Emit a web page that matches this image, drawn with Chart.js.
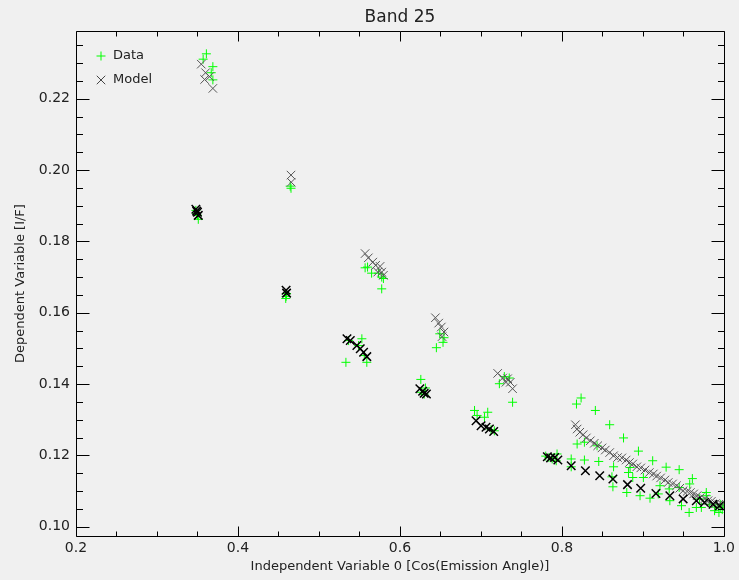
<!DOCTYPE html>
<html>
<head>
<meta charset="utf-8">
<title>Band 25</title>
<script src="https://cdn.jsdelivr.net/npm/chart.js@4.4.0/dist/chart.umd.min.js"></script>
<style>
  html, body { margin: 0; padding: 0; background: #f0f0f0; }
  #wrap { width: 739px; height: 580px; }
</style>
</head>
<body>
<div id="wrap"><canvas id="myChart" width="739" height="580"></canvas></div>
<script>
// observed I/F against cos(emission angle)
var dataXY = [
  [0.361,0.2326],[0.357,0.2311],[0.369,0.2290],[0.367,0.2273],[0.369,0.2253],
  [0.348,0.1887],[0.350,0.1873],[0.351,0.1862],[0.349,0.1879],
  [0.4655,0.1949],[0.4645,0.1955],
  [0.4594,0.1646],[0.4600,0.1654],[0.4590,0.1640],
  [0.557,0.1726],[0.565,0.1711],[0.5735,0.1711],[0.5775,0.1700],[0.5796,0.1696],[0.5775,0.1667],[0.560,0.1728],
  [0.5366,0.1522],[0.553,0.1527],[0.5489,0.1508],[0.5333,0.1461],[0.5591,0.1461],[0.556,0.1480],
  [0.6492,0.1541],[0.6544,0.1530],[0.6532,0.1517],[0.645,0.1502],
  [0.6258,0.1413],[0.6315,0.1389],[0.6266,0.1377],[0.630,0.1372],
  [0.6921,0.1326],[0.6953,0.1312],[0.7084,0.1321],[0.7044,0.1307],[0.7166,0.1269],[0.7125,0.1272],
  [0.7289,0.1421],[0.735,0.1417],[0.7228,0.1401],[0.7391,0.1349],
  [0.784,0.1194],[0.788,0.1190],[0.794,0.1204],[0.793,0.1185],[0.780,0.1198],
  [0.818,0.1344],[0.8237,0.1361],[0.8413,0.1326],[0.859,0.1286],[0.8761,0.1249],[0.8945,0.1212],
  [0.9121,0.1185],[0.9287,0.1167],[0.9448,0.1160],[0.9611,0.1135],[0.9783,0.1096],
  [0.8188,0.1232],[0.8278,0.1237],[0.8434,0.1227],[0.8278,0.1187],[0.8115,0.1190],[0.8115,0.1168],
  [0.8455,0.1183],[0.8638,0.1168],[0.863,0.1112],[0.8822,0.1152],[0.8801,0.1096],[0.8965,0.1087],
  [0.9006,0.1138],[0.9088,0.1080],[0.9211,0.1115],[0.9333,0.1073],[0.9477,0.1059],[0.9571,0.1040],
  [0.966,0.1054],[0.9722,0.1054],[0.9824,0.1063],[0.9885,0.1045],[0.9939,0.1040],[0.9955,0.1054],
  [0.919,0.1092],[0.9325,0.1106],[0.9448,0.1110],[0.9578,0.1120],[0.970,0.1078],[0.9783,0.1087],
  [0.8842,0.1166],[0.8875,0.1138],[0.8618,0.1140],
  [0.998,0.1048],[0.999,0.1058],[0.996,0.1062],[0.990,0.1055]
];

// model fit, upper branches
var modelXY = [
  [0.3547,0.2297],[0.360,0.2273],[0.3649,0.2262],[0.3588,0.2254],[0.369,0.2229],
  [0.4655,0.1986],[0.4658,0.1966],
  [0.557,0.1766],[0.561,0.1754],[0.5665,0.1742],[0.570,0.1733],[0.5755,0.1730],[0.5775,0.1714],[0.5796,0.1705],[0.5726,0.1714],
  [0.6438,0.1586],[0.6479,0.1571],[0.6511,0.1560],[0.6544,0.1546],[0.652,0.1533],
  [0.7207,0.1430],[0.7269,0.1417],[0.733,0.1415],[0.7363,0.1405],[0.7391,0.1387],[0.7309,0.1405],
  [0.8167,0.1286],[0.8188,0.1274],[0.8221,0.1265],[0.8262,0.1258],[0.8302,0.1249],[0.8351,0.1241],
  [0.8400,0.1234],[0.8442,0.1227],[0.8495,0.1221],[0.8536,0.1215],[0.8590,0.1208],[0.8638,0.1199],
  [0.8687,0.1194],[0.8740,0.1193],[0.8793,0.1187],[0.8834,0.1180],[0.8875,0.1176],[0.8925,0.1168],
  [0.8974,0.1165],[0.9026,0.1159],[0.9080,0.1152],[0.9129,0.1148],[0.9170,0.1142],[0.9219,0.1137],
  [0.9272,0.1131],[0.9313,0.1124],[0.9366,0.1120],[0.9415,0.1115],[0.9456,0.1108],[0.9497,0.1101],
  [0.9546,0.1099],[0.9587,0.1096],[0.9627,0.1092],[0.9669,0.1087],[0.9710,0.1082],[0.9763,0.1078],
  [0.9804,0.1073],[0.9845,0.1071],[0.9898,0.1065],[0.9939,0.1063],[0.9980,0.1062]
];

// model fit, lower branches
var modelLowXY = [
  [0.348,0.1890],[0.350,0.1882],[0.351,0.1873],[0.349,0.1885],
  [0.4594,0.1663],[0.4600,0.1655],
  [0.5346,0.1527],[0.5387,0.1522],[0.5468,0.1508],[0.551,0.1499],[0.5551,0.1489],[0.5591,0.1477],
  [0.6246,0.1387],[0.6299,0.1374],[0.6327,0.1372],[0.628,0.1380],
  [0.694,0.1297],[0.7002,0.1283],[0.7063,0.1279],[0.7105,0.1274],[0.7158,0.1267],
  [0.782,0.1196],[0.786,0.1193],[0.791,0.1194],[0.795,0.1187],
  [0.8115,0.1171],[0.829,0.1157],[0.8467,0.1143],[0.863,0.1134],[0.881,0.1118],[0.8973,0.1108],
  [0.9161,0.1093],[0.9333,0.1087],[0.9497,0.1078],[0.966,0.1073],[0.976,0.1068],[0.9866,0.1063],[0.9946,0.1059]
];

var xTickLabels = ['0.2', '0.4', '0.6', '0.8', '1.0'];
var yTickLabels = ['0.10', '0.12', '0.14', '0.16', '0.18', '0.20', '0.22'];
var xRange = [0.2, 1.0];
var yRange = [0.0974, 0.239];

var FONT = '"DejaVu Sans", sans-serif';
var INK = '#222';
var GREEN = '#00ff00';

function toPoints(arr) {
  return arr.map(function (p) { return { x: p[0], y: p[1] }; });
}

// IDL style box: frame on all four sides, ticks pointing inward
var boxTicks = {
  id: 'boxTicks',
  afterDraw: function (chart) {
    var ctx = chart.ctx, a = chart.chartArea;
    var sx = chart.scales.x, sy = chart.scales.y;
    var L = Math.round(a.left) + 0.5, R = Math.round(a.right) + 0.5;
    var T = Math.round(a.top) + 0.5, B = Math.round(a.bottom) + 0.5;
    ctx.save();
    ctx.strokeStyle = '#000';
    ctx.lineWidth = 1;
    ctx.beginPath();
    ctx.rect(L, T, R - L, B - T);
    var i, v, p, len;
    for (i = 0; i <= 16; i++) {
      v = xRange[0] + i * 0.05;
      p = Math.round(sx.getPixelForValue(v)) + 0.5;
      len = (i % 4 === 0) ? 10 : 5;
      ctx.moveTo(p, B); ctx.lineTo(p, B - len);
      ctx.moveTo(p, T); ctx.lineTo(p, T + len);
    }
    for (i = 0; i <= 27; i++) {
      v = 0.10 + i * 0.005;
      p = Math.round(sy.getPixelForValue(v)) + 0.5;
      len = (i % 4 === 0) ? 13 : 6.5;
      ctx.moveTo(L, p); ctx.lineTo(L + len, p);
      ctx.moveTo(R, p); ctx.lineTo(R - len, p);
    }
    ctx.stroke();

    // legend
    var lx = a.left + 25, ly = a.top + 25;
    ctx.strokeStyle = GREEN;
    Chart.helpers.drawPoint(ctx, { pointStyle: 'cross', radius: 4.5, borderWidth: 1, rotation: 0 }, lx, ly);
    ctx.strokeStyle = '#444';
    Chart.helpers.drawPoint(ctx, { pointStyle: 'crossRot', radius: 6, borderWidth: 1, rotation: 0 }, lx, ly + 24);
    ctx.fillStyle = INK;
    ctx.font = '13px ' + FONT;
    ctx.textBaseline = 'middle';
    ctx.textAlign = 'left';
    ctx.fillText('Data', lx + 12, ly);
    ctx.fillText('Model', lx + 12, ly + 24);
    ctx.restore();
  }
};

var ctx = document.getElementById('myChart').getContext('2d');
var chart = new Chart(ctx, {
  type: 'scatter',
  data: {
    datasets: [{
      label: 'Model',
      data: toPoints(modelLowXY),
      pointStyle: 'crossRot',
      pointRadius: 6,
      pointBorderWidth: 1.5,
      borderColor: '#000',
      backgroundColor: '#000'
    }, {
      label: 'Model',
      data: toPoints(modelXY),
      pointStyle: 'crossRot',
      pointRadius: 6,
      pointBorderWidth: 1,
      borderColor: '#555',
      backgroundColor: '#555'
    }, {
      label: 'Data',
      data: toPoints(dataXY),
      pointStyle: 'cross',
      pointRadius: 4.5,
      pointBorderWidth: 1,
      borderColor: GREEN,
      backgroundColor: GREEN
    }]
  },
  options: {
    responsive: false,
    animation: false,
    layout: { padding: { left: 0, right: 11, top: 0, bottom: 0 } },
    plugins: {
      legend: { display: false },
      tooltip: { enabled: false },
      title: {
        display: true,
        text: 'Band 25',
        fullSize: false,
        color: INK,
        font: { family: FONT, size: 17, weight: 'normal' },
        padding: { top: 7, bottom: 3.6 }
      }
    },
    scales: {
      x: {
        type: 'linear',
        min: xRange[0],
        max: xRange[1],
        grid: { display: false, drawTicks: false },
        border: { display: false },
        afterBuildTicks: function (s) {
          s.ticks = xTickLabels.map(function (t) { return { value: parseFloat(t) }; });
        },
        afterFit: function (s) { s.height = 44; },
        ticks: {
          padding: 4,
          color: INK,
          maxRotation: 0,
          font: { family: FONT, size: 14 },
          callback: function (v) { return v.toFixed(1); }
        },
        title: {
          display: true,
          text: 'Independent Variable 0 [Cos(Emission Angle)]',
          color: INK,
          font: { family: FONT, size: 13 },
          padding: { top: 0, bottom: 6 }
        }
      },
      y: {
        type: 'linear',
        min: yRange[0],
        max: yRange[1],
        grid: { display: false, drawTicks: false },
        border: { display: false },
        afterBuildTicks: function (s) {
          s.ticks = yTickLabels.map(function (t) { return { value: parseFloat(t) }; });
        },
        afterFit: function (s) { s.width = 76; },
        ticks: {
          padding: 6,
          color: INK,
          font: { family: FONT, size: 14 },
          callback: function (v) { return v.toFixed(2); }
        },
        title: {
          display: true,
          text: 'Dependent Variable [I/F]',
          color: INK,
          font: { family: FONT, size: 13 },
          padding: { top: 13, bottom: 0 }
        }
      }
    }
  },
  plugins: [boxTicks]
});
</script>
</body>
</html>
